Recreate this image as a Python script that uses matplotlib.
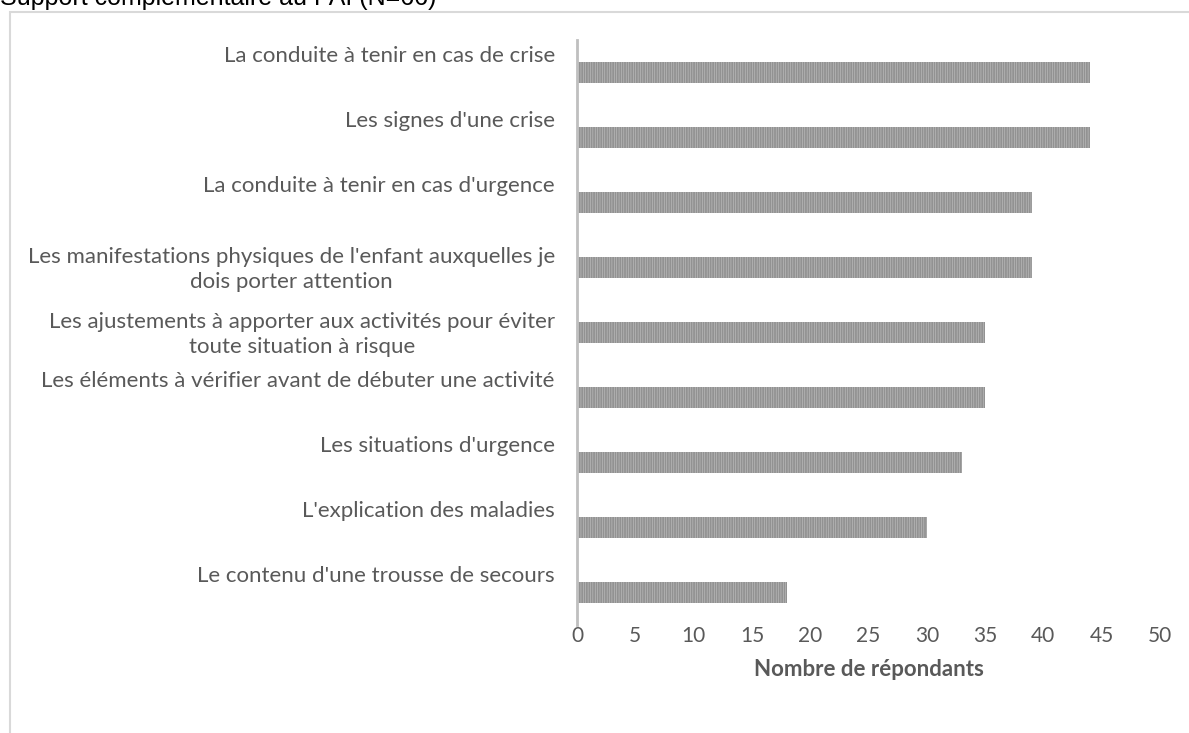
import matplotlib.pyplot as plt
from matplotlib.patches import Rectangle

categories = [
    "La conduite à tenir en cas de crise",
    "Les signes d'une crise",
    "La conduite à tenir en cas d'urgence",
    "Les manifestations physiques de l'enfant auxquelles je\ndois porter attention",
    "Les ajustements à apporter aux activités pour éviter\ntoute situation à risque",
    "Les éléments à vérifier avant de débuter une activité",
    "Les situations d'urgence",
    "L'explication des maladies",
    "Le contenu d'une trousse de secours",
]
values = [44, 44, 39, 39, 35, 35, 33, 30, 18]
xticks = [0, 5, 10, 15, 20, 25, 30, 35, 40, 45, 50]

title = "Support complémentaire au PAI (N=66)"
xlabel = "Nombre de répondants"

plt.rcParams['hatch.linewidth'] = 1.3
plt.rcParams['font.family'] = ['Lato', 'DejaVu Sans']

fig = plt.figure(figsize=(11.89, 7.33), dpi=100)
ax = fig.add_axes([577 / 1189, 1 - 625 / 733, (1160 - 577) / 1189, (625 - 40) / 733])

# cadre du graphique
fig.patches.append(Rectangle((10 / 1189, -0.1), 1.2, 1 - 12 / 733 + 0.1,
                             transform=fig.transFigure, fill=False,
                             edgecolor='#d9d9d9', linewidth=1.5))

pos = list(range(len(categories)))
ax.barh(pos, values, height=0.31, color='#c2c2c2', edgecolor='#929292',
        hatch='|' * 7, linewidth=0)

ax.set_ylim(len(categories) - 0.5, -0.5)
ax.set_xlim(0, 50)
ax.set_xticks(xticks)
ax.set_xticklabels([str(t) for t in xticks], fontsize=15, color='#595959')
ax.tick_params(axis='x', length=0, pad=1)
ax.set_yticks([])

# étiquettes sur une ligne : un peu au-dessus de la barre (comme Excel)
for i, c in enumerate(categories):
    dy = 0.03 if '\n' in c else -0.25
    ax.text(-1.9, i + dy, c, ha='right', va='center', fontsize=16,
            color='#595959', multialignment='center', linespacing=1.3)

for s in ['top', 'right', 'bottom']:
    ax.spines[s].set_visible(False)
ax.spines['left'].set_color('#bfbfbf')
ax.spines['left'].set_linewidth(2)

ax.set_xlabel(xlabel, fontsize=16, fontweight='bold', color='#595959', labelpad=9)

fig.text(0, 1 - 5 / 733, title, fontsize=18, family='Liberation Sans',
         ha='left', va='baseline', color='#000000')

fig.savefig('out.png', dpi=100)
